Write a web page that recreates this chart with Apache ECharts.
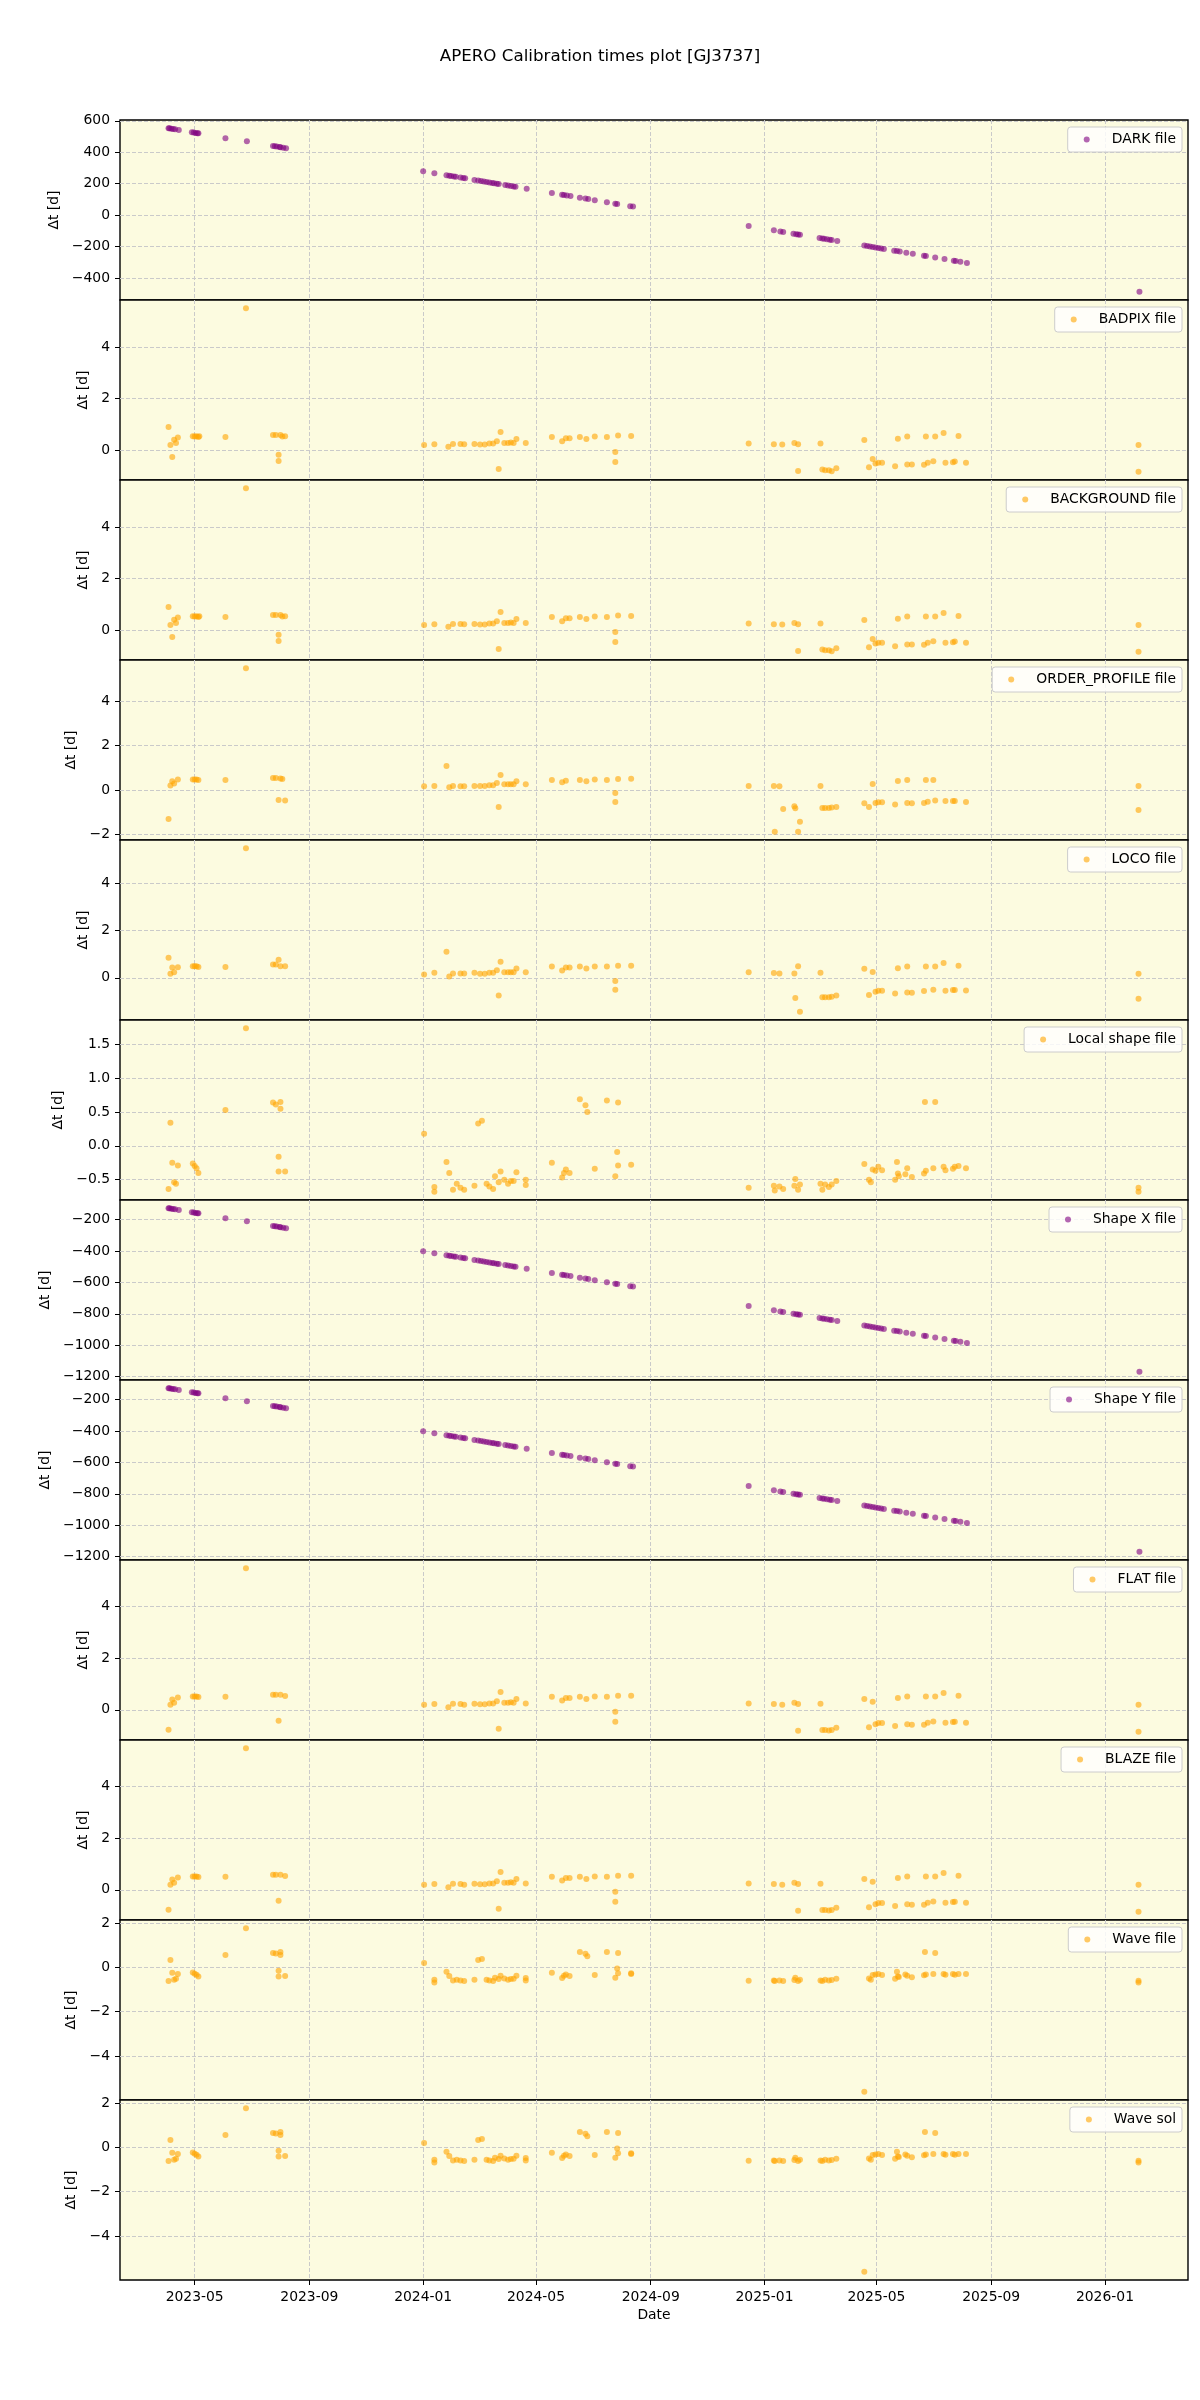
<!DOCTYPE html>
<html>
<head>
<meta charset="utf-8">
<script src="https://cdn.jsdelivr.net/npm/echarts@6/dist/echarts.min.js"></script>
<style>
  html, body { margin: 0; padding: 0; background: #fff; }
  #chart { width: 1200px; height: 2400px; }
</style>
</head>
<body>
<div id="chart"></div>
<script>
// x tick labels (first of month)
const monthTicks = ['2023-05', '2023-09', '2024-01', '2024-05', '2024-09', '2025-01', '2025-05', '2025-09', '2026-01'];

// dates shared by DARK / Shape X / Shape Y
const calibDates = [
  '2023-04-03', '2023-04-04', '2023-04-06', '2023-04-08', '2023-04-10', '2023-04-14',
  '2023-04-28', '2023-04-30', '2023-05-02', '2023-05-04', '2023-05-05',
  '2023-06-03', '2023-06-26',
  '2023-07-24', '2023-07-26', '2023-07-28', '2023-07-31', '2023-08-01', '2023-08-04', '2023-08-07',
  '2024-01-01', '2024-01-13', '2024-01-26', '2024-01-29', '2024-01-31', '2024-02-03', '2024-02-05', '2024-02-10', '2024-02-13', '2024-02-15',
  '2024-02-25', '2024-02-29', '2024-03-03', '2024-03-06', '2024-03-09', '2024-03-12', '2024-03-15', '2024-03-17', '2024-03-20', '2024-03-22',
  '2024-03-29', '2024-04-01', '2024-04-04', '2024-04-07', '2024-04-09', '2024-04-21', '2024-05-18', '2024-05-29', '2024-05-31', '2024-06-03',
  '2024-06-07', '2024-06-17', '2024-06-23', '2024-06-26', '2024-07-03', '2024-07-16', '2024-07-25', '2024-07-27', '2024-08-10', '2024-08-13',
  '2024-12-15', '2025-01-11', '2025-01-18', '2025-01-21', '2025-02-01', '2025-02-04', '2025-02-06', '2025-02-08', '2025-03-01', '2025-03-04',
  '2025-03-06', '2025-03-09', '2025-03-12', '2025-03-14', '2025-03-20', '2025-04-18', '2025-04-21', '2025-04-24', '2025-04-27', '2025-04-30',
  '2025-05-03', '2025-05-06', '2025-05-09', '2025-05-20', '2025-05-23', '2025-05-26', '2025-06-02', '2025-06-09', '2025-06-21', '2025-06-23',
  '2025-07-03', '2025-07-13', '2025-07-23', '2025-07-25', '2025-07-30', '2025-08-06',
  '2026-02-07'
];

const darkVals = [
  553, 552, 550, 548, 546, 542, 527, 525, 523, 521, 520, 489, 470, 440, 438, 436, 433, 432, 429, 426,
  279, 267, 254, 251, 249, 246, 244, 239, 236, 234, 224, 220, 217, 214, 211, 208, 205, 203, 200, 198,
  191, 188, 185, 182, 180, 168, 141, 130, 128, 125, 121, 111, 105, 102, 95, 82, 73, 71, 57, 54,
  -70, -97, -104, -107, -118, -121, -123, -125, -146, -149, -151, -154, -157, -159, -165, -194, -197, -200, -203, -206,
  -209, -212, -215, -226, -229, -232, -239, -246, -258, -260, -270, -280, -290, -292, -297, -304,
  -488
];

const shapeXVals = [
  -128, -129, -131, -133, -135, -139, -154, -156, -158, -160, -161, -192, -211, -241, -243, -245, -248, -249, -252, -255,
  -402, -414, -427, -430, -432, -435, -437, -442, -445, -447, -457, -461, -464, -467, -470, -473, -476, -478, -481, -483,
  -490, -493, -496, -499, -501, -513, -540, -551, -553, -556, -560, -570, -576, -579, -586, -599, -608, -610, -624, -627,
  -751, -778, -785, -788, -799, -802, -804, -806, -827, -830, -832, -835, -838, -840, -846, -875, -878, -881, -884, -887,
  -890, -893, -896, -907, -910, -913, -920, -927, -939, -941, -951, -961, -971, -973, -978, -985,
  -1169
];

const shapeYVals = [
  -128, -129, -131, -133, -135, -139, -154, -156, -158, -160, -161, -192, -211, -241, -243, -245, -248, -249, -252, -255,
  -402, -414, -427, -430, -432, -435, -437, -442, -445, -447, -457, -461, -464, -467, -470, -473, -476, -478, -481, -483,
  -490, -493, -496, -499, -501, -513, -540, -551, -553, -556, -560, -570, -576, -579, -586, -599, -608, -610, -624, -627,
  -751, -778, -785, -788, -799, -802, -804, -806, -827, -830, -832, -835, -838, -840, -846, -875, -878, -881, -884, -887,
  -890, -893, -896, -907, -910, -913, -920, -927, -939, -941, -951, -961, -971, -973, -978, -985,
  -1169
];

const badpixPts = [
  ['2023-04-03', 0.89], ['2023-04-05', 0.19], ['2023-04-07', -0.27], ['2023-04-09', 0.40], ['2023-04-11', 0.27], ['2023-04-13', 0.48],
  ['2023-04-29', 0.53], ['2023-05-01', 0.52], ['2023-05-03', 0.53], ['2023-05-05', 0.50], ['2023-05-06', 0.53], ['2023-06-03', 0.50],
  ['2023-06-25', 5.51], ['2023-07-24', 0.58], ['2023-07-27', 0.58], ['2023-07-30', -0.19], ['2023-07-30', -0.43], ['2023-08-01', 0.58],
  ['2023-08-03', 0.52], ['2023-08-06', 0.53],
  ['2024-01-02', 0.19], ['2024-01-13', 0.22], ['2024-01-28', 0.12], ['2024-02-02', 0.23], ['2024-02-10', 0.23], ['2024-02-14', 0.22],
  ['2024-02-25', 0.23], ['2024-03-02', 0.21], ['2024-03-07', 0.21], ['2024-03-12', 0.25], ['2024-03-16', 0.25], ['2024-03-20', 0.34],
  ['2024-03-22', -0.74], ['2024-03-24', 0.70], ['2024-03-28', 0.27], ['2024-04-01', 0.27], ['2024-04-04', 0.29], ['2024-04-07', 0.27],
  ['2024-04-10', 0.43], ['2024-04-20', 0.27], ['2024-05-18', 0.50], ['2024-05-29', 0.34], ['2024-06-02', 0.45], ['2024-06-06', 0.45],
  ['2024-06-17', 0.50], ['2024-06-24', 0.43], ['2024-07-03', 0.52], ['2024-07-16', 0.50], ['2024-07-25', -0.08], ['2024-07-25', -0.47],
  ['2024-07-28', 0.56], ['2024-08-11', 0.54],
  ['2024-12-15', 0.25], ['2025-01-11', 0.22], ['2025-01-20', 0.21], ['2025-02-02', 0.27], ['2025-02-06', 0.22], ['2025-02-06', -0.82],
  ['2025-03-02', 0.25], ['2025-03-04', -0.76], ['2025-03-07', -0.79], ['2025-03-11', -0.79], ['2025-03-14', -0.83], ['2025-03-19', -0.71],
  ['2025-04-18', 0.39], ['2025-04-23', -0.67], ['2025-04-27', -0.35], ['2025-04-30', -0.53], ['2025-05-03', -0.50], ['2025-05-07', -0.50],
  ['2025-05-21', -0.63], ['2025-05-24', 0.44], ['2025-06-03', 0.52], ['2025-06-03', -0.57], ['2025-06-08', -0.57], ['2025-06-21', -0.58],
  ['2025-06-23', 0.52], ['2025-06-25', -0.50], ['2025-07-01', -0.44], ['2025-07-03', 0.52], ['2025-07-12', 0.66], ['2025-07-14', -0.50],
  ['2025-07-22', -0.48], ['2025-07-24', -0.45], ['2025-07-28', 0.54], ['2025-08-05', -0.50],
  ['2026-02-06', 0.19], ['2026-02-06', -0.85]
];

const backgroundPts = [
  ['2023-04-03', 0.89], ['2023-04-05', 0.19], ['2023-04-07', -0.27], ['2023-04-09', 0.40], ['2023-04-11', 0.27], ['2023-04-13', 0.48],
  ['2023-04-29', 0.53], ['2023-05-01', 0.52], ['2023-05-03', 0.53], ['2023-05-05', 0.50], ['2023-05-06', 0.53], ['2023-06-03', 0.50],
  ['2023-06-25', 5.51], ['2023-07-24', 0.58], ['2023-07-27', 0.58], ['2023-07-30', -0.19], ['2023-07-30', -0.43], ['2023-08-01', 0.58],
  ['2023-08-03', 0.52], ['2023-08-06', 0.53],
  ['2024-01-02', 0.19], ['2024-01-13', 0.22], ['2024-01-28', 0.12], ['2024-02-02', 0.23], ['2024-02-10', 0.23], ['2024-02-14', 0.22],
  ['2024-02-25', 0.23], ['2024-03-02', 0.21], ['2024-03-07', 0.21], ['2024-03-12', 0.25], ['2024-03-16', 0.25], ['2024-03-20', 0.34],
  ['2024-03-22', -0.74], ['2024-03-24', 0.70], ['2024-03-28', 0.27], ['2024-04-01', 0.27], ['2024-04-04', 0.29], ['2024-04-07', 0.27],
  ['2024-04-10', 0.43], ['2024-04-20', 0.27], ['2024-05-18', 0.50], ['2024-05-29', 0.34], ['2024-06-02', 0.45], ['2024-06-06', 0.45],
  ['2024-06-17', 0.50], ['2024-06-24', 0.43], ['2024-07-03', 0.52], ['2024-07-16', 0.50], ['2024-07-25', -0.08], ['2024-07-25', -0.47],
  ['2024-07-28', 0.56], ['2024-08-11', 0.54],
  ['2024-12-15', 0.25], ['2025-01-11', 0.22], ['2025-01-20', 0.21], ['2025-02-02', 0.27], ['2025-02-06', 0.22], ['2025-02-06', -0.82],
  ['2025-03-02', 0.25], ['2025-03-04', -0.76], ['2025-03-07', -0.79], ['2025-03-11', -0.79], ['2025-03-14', -0.83], ['2025-03-19', -0.71],
  ['2025-04-18', 0.39], ['2025-04-23', -0.67], ['2025-04-27', -0.35], ['2025-04-30', -0.53], ['2025-05-03', -0.50], ['2025-05-07', -0.50],
  ['2025-05-21', -0.63], ['2025-05-24', 0.44], ['2025-06-03', 0.52], ['2025-06-03', -0.57], ['2025-06-08', -0.57], ['2025-06-21', -0.58],
  ['2025-06-23', 0.52], ['2025-06-25', -0.50], ['2025-07-01', -0.44], ['2025-07-03', 0.52], ['2025-07-12', 0.66], ['2025-07-14', -0.50],
  ['2025-07-22', -0.48], ['2025-07-24', -0.45], ['2025-07-28', 0.54], ['2025-08-05', -0.50],
  ['2026-02-06', 0.19], ['2026-02-06', -0.85]
];

const orderProfilePts = [
  ['2023-04-03', -1.31], ['2023-04-05', 0.20], ['2023-04-07', 0.39], ['2023-04-09', 0.29], ['2023-04-13', 0.47], ['2023-04-29', 0.47],
  ['2023-05-01', 0.47], ['2023-05-03', 0.47], ['2023-05-05', 0.45], ['2023-06-03', 0.45], ['2023-06-25', 5.50], ['2023-07-24', 0.54],
  ['2023-07-27', 0.54], ['2023-07-30', -0.45], ['2023-08-01', 0.52], ['2023-08-03', 0.50], ['2023-08-06', -0.48],
  ['2024-01-02', 0.17], ['2024-01-13', 0.18], ['2024-01-26', 1.08], ['2024-01-29', 0.12], ['2024-02-02', 0.18], ['2024-02-10', 0.17],
  ['2024-02-14', 0.17], ['2024-02-25', 0.18], ['2024-03-02', 0.18], ['2024-03-07', 0.18], ['2024-03-12', 0.21], ['2024-03-16', 0.21],
  ['2024-03-20', 0.32], ['2024-03-22', -0.77], ['2024-03-24', 0.68], ['2024-03-28', 0.26], ['2024-04-01', 0.26], ['2024-04-04', 0.26],
  ['2024-04-07', 0.26], ['2024-04-10', 0.39], ['2024-04-20', 0.26], ['2024-05-18', 0.45], ['2024-05-29', 0.35], ['2024-06-02', 0.42],
  ['2024-06-17', 0.45], ['2024-06-24', 0.39], ['2024-07-03', 0.47], ['2024-07-16', 0.45], ['2024-07-25', -0.14], ['2024-07-25', -0.54],
  ['2024-07-28', 0.50], ['2024-08-11', 0.51],
  ['2024-12-15', 0.18], ['2025-01-11', 0.18], ['2025-01-12', -1.89], ['2025-01-17', 0.17], ['2025-01-21', -0.86], ['2025-02-02', -0.74],
  ['2025-02-03', -0.83], ['2025-02-06', -1.89], ['2025-02-08', -1.44], ['2025-03-02', 0.18], ['2025-03-04', -0.81], ['2025-03-07', -0.81],
  ['2025-03-11', -0.81], ['2025-03-14', -0.79], ['2025-03-19', -0.77], ['2025-04-18', -0.60], ['2025-04-23', -0.77], ['2025-04-27', 0.27],
  ['2025-04-30', -0.59], ['2025-05-03', -0.56], ['2025-05-07', -0.56], ['2025-05-21', -0.66], ['2025-05-24', 0.41], ['2025-06-03', 0.45],
  ['2025-06-03', -0.59], ['2025-06-08', -0.60], ['2025-06-21', -0.59], ['2025-06-23', 0.45], ['2025-06-25', -0.53], ['2025-07-01', 0.45],
  ['2025-07-03', -0.48], ['2025-07-14', -0.50], ['2025-07-22', -0.50], ['2025-07-24', -0.50], ['2025-08-05', -0.54],
  ['2026-02-06', 0.18], ['2026-02-06', -0.90]
];

const locoPts = [
  ['2023-04-03', 0.85], ['2023-04-05', 0.17], ['2023-04-07', 0.44], ['2023-04-09', 0.24], ['2023-04-13', 0.45], ['2023-04-29', 0.49],
  ['2023-05-01', 0.49], ['2023-05-03', 0.49], ['2023-05-05', 0.46], ['2023-06-03', 0.46], ['2023-06-25', 5.49], ['2023-07-24', 0.56],
  ['2023-07-27', 0.56], ['2023-07-30', 0.77], ['2023-08-01', 0.49], ['2023-08-06', 0.49],
  ['2024-01-02', 0.14], ['2024-01-13', 0.21], ['2024-01-26', 1.10], ['2024-01-29', 0.06], ['2024-02-02', 0.18], ['2024-02-10', 0.18],
  ['2024-02-14', 0.18], ['2024-02-25', 0.21], ['2024-03-02', 0.17], ['2024-03-07', 0.17], ['2024-03-12', 0.21], ['2024-03-16', 0.21],
  ['2024-03-20', 0.32], ['2024-03-22', -0.75], ['2024-03-24', 0.68], ['2024-03-28', 0.24], ['2024-04-01', 0.24], ['2024-04-04', 0.24],
  ['2024-04-07', 0.24], ['2024-04-10', 0.39], ['2024-04-20', 0.24], ['2024-05-18', 0.48], ['2024-05-29', 0.31], ['2024-06-02', 0.44],
  ['2024-06-06', 0.44], ['2024-06-17', 0.48], ['2024-06-24', 0.39], ['2024-07-03', 0.48], ['2024-07-16', 0.48], ['2024-07-25', -0.13],
  ['2024-07-25', -0.51], ['2024-07-28', 0.51], ['2024-08-11', 0.51],
  ['2024-12-15', 0.24], ['2025-01-11', 0.20], ['2025-01-17', 0.18], ['2025-02-02', 0.18], ['2025-02-03', -0.86], ['2025-02-06', 0.49],
  ['2025-02-08', -1.44], ['2025-03-02', 0.21], ['2025-03-04', -0.82], ['2025-03-07', -0.82], ['2025-03-11', -0.82], ['2025-03-14', -0.80],
  ['2025-03-19', -0.75], ['2025-04-18', 0.38], ['2025-04-23', -0.73], ['2025-04-27', 0.25], ['2025-04-30', -0.59], ['2025-05-03', -0.55],
  ['2025-05-07', -0.55], ['2025-05-21', -0.66], ['2025-05-24', 0.41], ['2025-06-03', 0.48], ['2025-06-03', -0.62], ['2025-06-08', -0.63],
  ['2025-06-21', -0.56], ['2025-06-23', 0.48], ['2025-07-01', -0.51], ['2025-07-03', 0.48], ['2025-07-12', 0.63], ['2025-07-14', -0.55],
  ['2025-07-22', -0.52], ['2025-07-24', -0.52], ['2025-07-28', 0.51], ['2025-08-05', -0.54],
  ['2026-02-06', 0.17], ['2026-02-06', -0.89]
];

const localShapePts = [
  ['2023-04-03', -0.64], ['2023-04-05', 0.34], ['2023-04-07', -0.25], ['2023-04-09', -0.54], ['2023-04-11', -0.56], ['2023-04-13', -0.29],
  ['2023-04-29', -0.26], ['2023-05-01', -0.30], ['2023-05-03', -0.33], ['2023-05-05', -0.40], ['2023-06-03', 0.53], ['2023-06-25', 1.74],
  ['2023-07-24', 0.64], ['2023-07-27', 0.61], ['2023-08-01', 0.65], ['2023-08-01', 0.55], ['2023-07-30', -0.16], ['2023-07-30', -0.38],
  ['2023-08-06', -0.38],
  ['2024-01-02', 0.18], ['2024-01-13', -0.61], ['2024-01-13', -0.68], ['2024-01-26', -0.24], ['2024-01-29', -0.40], ['2024-02-02', -0.65],
  ['2024-02-06', -0.56], ['2024-02-10', -0.62], ['2024-02-14', -0.65], ['2024-02-25', -0.59], ['2024-02-29', 0.33], ['2024-03-04', 0.37],
  ['2024-03-09', -0.56], ['2024-03-12', -0.60], ['2024-03-16', -0.64], ['2024-03-18', -0.45], ['2024-03-22', -0.54], ['2024-03-24', -0.38],
  ['2024-03-28', -0.50], ['2024-04-01', -0.56], ['2024-04-04', -0.52], ['2024-04-07', -0.52], ['2024-04-10', -0.39], ['2024-04-20', -0.50],
  ['2024-04-20', -0.58], ['2024-05-18', -0.25], ['2024-05-29', -0.47], ['2024-05-31', -0.40], ['2024-06-02', -0.35], ['2024-06-06', -0.40],
  ['2024-06-17', 0.69], ['2024-06-23', 0.60], ['2024-06-25', 0.50], ['2024-07-03', -0.34], ['2024-07-16', 0.67], ['2024-07-25', -0.45],
  ['2024-07-27', -0.09], ['2024-07-28', 0.64], ['2024-07-28', -0.29], ['2024-08-11', -0.28],
  ['2024-12-15', -0.62], ['2025-01-11', -0.59], ['2025-01-12', -0.66], ['2025-01-17', -0.60], ['2025-01-21', -0.64], ['2025-02-02', -0.59],
  ['2025-02-03', -0.49], ['2025-02-06', -0.65], ['2025-02-08', -0.57], ['2025-03-02', -0.56], ['2025-03-04', -0.65], ['2025-03-07', -0.57],
  ['2025-03-11', -0.61], ['2025-03-14', -0.57], ['2025-03-19', -0.52], ['2025-04-18', -0.27], ['2025-04-23', -0.50], ['2025-04-25', -0.54],
  ['2025-04-27', -0.35], ['2025-04-30', -0.37], ['2025-05-03', -0.31], ['2025-05-07', -0.36], ['2025-05-21', -0.50], ['2025-05-23', -0.24],
  ['2025-05-24', -0.41], ['2025-05-25', -0.45], ['2025-06-01', -0.42], ['2025-06-03', -0.33], ['2025-06-08', -0.46], ['2025-06-21', -0.41],
  ['2025-06-22', 0.65], ['2025-06-23', -0.37], ['2025-07-01', -0.33], ['2025-07-03', 0.65], ['2025-07-12', -0.31], ['2025-07-14', -0.36],
  ['2025-07-22', -0.34], ['2025-07-24', -0.31], ['2025-07-28', -0.30], ['2025-08-05', -0.33],
  ['2026-02-06', -0.62], ['2026-02-06', -0.68]
];

const flatPts = [
  ['2023-04-03', -0.77], ['2023-04-05', 0.19], ['2023-04-07', 0.40], ['2023-04-09', 0.27], ['2023-04-13', 0.47], ['2023-04-29', 0.51],
  ['2023-05-01', 0.51], ['2023-05-03', 0.51], ['2023-05-05', 0.49], ['2023-06-03', 0.50], ['2023-06-25', 5.46], ['2023-07-24', 0.58],
  ['2023-07-27', 0.58], ['2023-07-30', -0.42], ['2023-08-01', 0.58], ['2023-08-06', 0.53],
  ['2024-01-02', 0.19], ['2024-01-13', 0.22], ['2024-01-28', 0.10], ['2024-02-02', 0.23], ['2024-02-10', 0.22], ['2024-02-14', 0.19],
  ['2024-02-25', 0.23], ['2024-03-02', 0.21], ['2024-03-07', 0.21], ['2024-03-12', 0.24], ['2024-03-16', 0.24], ['2024-03-20', 0.33],
  ['2024-03-22', -0.73], ['2024-03-24', 0.69], ['2024-03-28', 0.27], ['2024-04-01', 0.27], ['2024-04-04', 0.29], ['2024-04-07', 0.27],
  ['2024-04-10', 0.42], ['2024-04-20', 0.24], ['2024-05-18', 0.50], ['2024-05-29', 0.36], ['2024-06-02', 0.45], ['2024-06-06', 0.45],
  ['2024-06-17', 0.50], ['2024-06-24', 0.42], ['2024-07-03', 0.51], ['2024-07-16', 0.50], ['2024-07-25', -0.08], ['2024-07-25', -0.46],
  ['2024-07-28', 0.54], ['2024-08-11', 0.54],
  ['2024-12-15', 0.24], ['2025-01-11', 0.22], ['2025-01-20', 0.19], ['2025-02-02', 0.27], ['2025-02-06', 0.22], ['2025-02-06', -0.81],
  ['2025-03-02', 0.23], ['2025-03-04', -0.78], ['2025-03-07', -0.78], ['2025-03-11', -0.80], ['2025-03-14', -0.78], ['2025-03-19', -0.69],
  ['2025-04-18', 0.42], ['2025-04-23', -0.67], ['2025-04-27', 0.31], ['2025-04-30', -0.56], ['2025-05-03', -0.51], ['2025-05-07', -0.51],
  ['2025-05-21', -0.63], ['2025-05-24', 0.45], ['2025-06-03', 0.51], ['2025-06-03', -0.56], ['2025-06-08', -0.58], ['2025-06-21', -0.58],
  ['2025-06-23', 0.51], ['2025-06-25', -0.50], ['2025-07-01', -0.45], ['2025-07-03', 0.51], ['2025-07-12', 0.65], ['2025-07-14', -0.50],
  ['2025-07-22', -0.47], ['2025-07-24', -0.46], ['2025-07-28', 0.54], ['2025-08-05', -0.50],
  ['2026-02-06', 0.19], ['2026-02-06', -0.85]
];

const blazePts = [
  ['2023-04-03', -0.77], ['2023-04-05', 0.19], ['2023-04-07', 0.40], ['2023-04-09', 0.27], ['2023-04-13', 0.47], ['2023-04-29', 0.51],
  ['2023-05-01', 0.51], ['2023-05-03', 0.51], ['2023-05-05', 0.49], ['2023-06-03', 0.50], ['2023-06-25', 5.46], ['2023-07-24', 0.58],
  ['2023-07-27', 0.58], ['2023-07-30', -0.42], ['2023-08-01', 0.58], ['2023-08-06', 0.53],
  ['2024-01-02', 0.19], ['2024-01-13', 0.22], ['2024-01-28', 0.10], ['2024-02-02', 0.23], ['2024-02-10', 0.22], ['2024-02-14', 0.19],
  ['2024-02-25', 0.23], ['2024-03-02', 0.21], ['2024-03-07', 0.21], ['2024-03-12', 0.24], ['2024-03-16', 0.24], ['2024-03-20', 0.33],
  ['2024-03-22', -0.73], ['2024-03-24', 0.69], ['2024-03-28', 0.27], ['2024-04-01', 0.27], ['2024-04-04', 0.29], ['2024-04-07', 0.27],
  ['2024-04-10', 0.42], ['2024-04-20', 0.24], ['2024-05-18', 0.50], ['2024-05-29', 0.36], ['2024-06-02', 0.45], ['2024-06-06', 0.45],
  ['2024-06-17', 0.50], ['2024-06-24', 0.42], ['2024-07-03', 0.51], ['2024-07-16', 0.50], ['2024-07-25', -0.08], ['2024-07-25', -0.46],
  ['2024-07-28', 0.54], ['2024-08-11', 0.54],
  ['2024-12-15', 0.24], ['2025-01-11', 0.22], ['2025-01-20', 0.19], ['2025-02-02', 0.27], ['2025-02-06', 0.22], ['2025-02-06', -0.81],
  ['2025-03-02', 0.23], ['2025-03-04', -0.78], ['2025-03-07', -0.78], ['2025-03-11', -0.80], ['2025-03-14', -0.78], ['2025-03-19', -0.69],
  ['2025-04-18', 0.42], ['2025-04-23', -0.67], ['2025-04-27', 0.31], ['2025-04-30', -0.56], ['2025-05-03', -0.51], ['2025-05-07', -0.51],
  ['2025-05-21', -0.63], ['2025-05-24', 0.45], ['2025-06-03', 0.51], ['2025-06-03', -0.56], ['2025-06-08', -0.58], ['2025-06-21', -0.58],
  ['2025-06-23', 0.51], ['2025-06-25', -0.50], ['2025-07-01', -0.45], ['2025-07-03', 0.51], ['2025-07-12', 0.65], ['2025-07-14', -0.50],
  ['2025-07-22', -0.47], ['2025-07-24', -0.46], ['2025-07-28', 0.54], ['2025-08-05', -0.50],
  ['2026-02-06', 0.19], ['2026-02-06', -0.85]
];

const wavePts = [
  ['2023-04-03', -0.62], ['2023-04-05', 0.33], ['2023-04-07', -0.24], ['2023-04-09', -0.56], ['2023-04-11', -0.51], ['2023-04-13', -0.30],
  ['2023-04-29', -0.23], ['2023-05-01', -0.29], ['2023-05-03', -0.33], ['2023-05-05', -0.41], ['2023-06-03', 0.56], ['2023-06-25', 1.77],
  ['2023-07-24', 0.65], ['2023-07-27', 0.63], ['2023-08-01', 0.69], ['2023-08-01', 0.56], ['2023-07-30', -0.15], ['2023-07-30', -0.41],
  ['2023-08-06', -0.39],
  ['2024-01-02', 0.20], ['2024-01-13', -0.56], ['2024-01-13', -0.68], ['2024-01-26', -0.20], ['2024-01-29', -0.39], ['2024-02-02', -0.59],
  ['2024-02-06', -0.56], ['2024-02-10', -0.59], ['2024-02-14', -0.62], ['2024-02-25', -0.56], ['2024-02-29', 0.33], ['2024-03-04', 0.38],
  ['2024-03-09', -0.56], ['2024-03-12', -0.59], ['2024-03-16', -0.62], ['2024-03-18', -0.47], ['2024-03-22', -0.53], ['2024-03-24', -0.38],
  ['2024-03-28', -0.50], ['2024-04-01', -0.56], ['2024-04-04', -0.53], ['2024-04-07', -0.51], ['2024-04-10', -0.38], ['2024-04-20', -0.48],
  ['2024-04-20', -0.59], ['2024-05-18', -0.24], ['2024-05-29', -0.48], ['2024-05-31', -0.38], ['2024-06-02', -0.32], ['2024-06-06', -0.39],
  ['2024-06-17', 0.69], ['2024-06-23', 0.62], ['2024-06-25', 0.50], ['2024-07-03', -0.35], ['2024-07-16', 0.69], ['2024-07-25', -0.47],
  ['2024-07-27', -0.05], ['2024-07-28', 0.65], ['2024-07-28', -0.27], ['2024-08-11', -0.27], ['2024-08-11', -0.30],
  ['2024-12-15', -0.60], ['2025-01-11', -0.59], ['2025-01-12', -0.62], ['2025-01-17', -0.59], ['2025-01-21', -0.62], ['2025-02-02', -0.57],
  ['2025-02-03', -0.47], ['2025-02-06', -0.62], ['2025-02-08', -0.56], ['2025-03-02', -0.59], ['2025-03-04', -0.62], ['2025-03-07', -0.56],
  ['2025-03-11', -0.59], ['2025-03-14', -0.57], ['2025-03-19', -0.51], ['2025-04-18', -5.62], ['2025-04-23', -0.50], ['2025-04-25', -0.56],
  ['2025-04-27', -0.35], ['2025-04-30', -0.32], ['2025-05-03', -0.30], ['2025-05-07', -0.35], ['2025-05-21', -0.51], ['2025-05-23', -0.20],
  ['2025-05-24', -0.41], ['2025-05-25', -0.44], ['2025-06-01', -0.32], ['2025-06-03', -0.38], ['2025-06-08', -0.45], ['2025-06-21', -0.36],
  ['2025-06-22', 0.69], ['2025-06-23', -0.32], ['2025-07-01', -0.30], ['2025-07-03', 0.65], ['2025-07-12', -0.30], ['2025-07-14', -0.33],
  ['2025-07-22', -0.30], ['2025-07-24', -0.33], ['2025-07-28', -0.30], ['2025-08-05', -0.30],
  ['2026-02-06', -0.60], ['2026-02-06', -0.68]
];

const waveSolPts = [
  ['2023-04-03', -0.62], ['2023-04-05', 0.33], ['2023-04-07', -0.24], ['2023-04-09', -0.56], ['2023-04-11', -0.51], ['2023-04-13', -0.30],
  ['2023-04-29', -0.23], ['2023-05-01', -0.29], ['2023-05-03', -0.33], ['2023-05-05', -0.41], ['2023-06-03', 0.56], ['2023-06-25', 1.77],
  ['2023-07-24', 0.65], ['2023-07-27', 0.63], ['2023-08-01', 0.69], ['2023-08-01', 0.56], ['2023-07-30', -0.15], ['2023-07-30', -0.41],
  ['2023-08-06', -0.39],
  ['2024-01-02', 0.20], ['2024-01-13', -0.56], ['2024-01-13', -0.68], ['2024-01-26', -0.20], ['2024-01-29', -0.39], ['2024-02-02', -0.59],
  ['2024-02-06', -0.56], ['2024-02-10', -0.59], ['2024-02-14', -0.62], ['2024-02-25', -0.56], ['2024-02-29', 0.33], ['2024-03-04', 0.38],
  ['2024-03-09', -0.56], ['2024-03-12', -0.59], ['2024-03-16', -0.62], ['2024-03-18', -0.47], ['2024-03-22', -0.53], ['2024-03-24', -0.38],
  ['2024-03-28', -0.50], ['2024-04-01', -0.56], ['2024-04-04', -0.53], ['2024-04-07', -0.51], ['2024-04-10', -0.38], ['2024-04-20', -0.48],
  ['2024-04-20', -0.59], ['2024-05-18', -0.24], ['2024-05-29', -0.48], ['2024-05-31', -0.38], ['2024-06-02', -0.32], ['2024-06-06', -0.39],
  ['2024-06-17', 0.69], ['2024-06-23', 0.62], ['2024-06-25', 0.50], ['2024-07-03', -0.35], ['2024-07-16', 0.69], ['2024-07-25', -0.47],
  ['2024-07-27', -0.05], ['2024-07-28', 0.65], ['2024-07-28', -0.27], ['2024-08-11', -0.27], ['2024-08-11', -0.30],
  ['2024-12-15', -0.60], ['2025-01-11', -0.59], ['2025-01-12', -0.62], ['2025-01-17', -0.59], ['2025-01-21', -0.62], ['2025-02-02', -0.57],
  ['2025-02-03', -0.47], ['2025-02-06', -0.62], ['2025-02-08', -0.56], ['2025-03-02', -0.59], ['2025-03-04', -0.62], ['2025-03-07', -0.56],
  ['2025-03-11', -0.59], ['2025-03-14', -0.57], ['2025-03-19', -0.51], ['2025-04-18', -5.62], ['2025-04-23', -0.50], ['2025-04-25', -0.56],
  ['2025-04-27', -0.35], ['2025-04-30', -0.32], ['2025-05-03', -0.30], ['2025-05-07', -0.35], ['2025-05-21', -0.51], ['2025-05-23', -0.20],
  ['2025-05-24', -0.41], ['2025-05-25', -0.44], ['2025-06-01', -0.32], ['2025-06-03', -0.38], ['2025-06-08', -0.45], ['2025-06-21', -0.36],
  ['2025-06-22', 0.69], ['2025-06-23', -0.32], ['2025-07-01', -0.30], ['2025-07-03', 0.65], ['2025-07-12', -0.30], ['2025-07-14', -0.33],
  ['2025-07-22', -0.30], ['2025-07-24', -0.33], ['2025-07-28', -0.30], ['2025-08-05', -0.30],
  ['2026-02-06', -0.60], ['2026-02-06', -0.68]
];

// y tick values per panel
const darkTicks = [-400, -200, 0, 200, 400, 600];
const smallTicks = [0, 2, 4];
const orderTicks = [-2, 0, 2, 4];
const localTicks = [-0.5, 0, 0.5, 1, 1.5];
const shapeTicks = [-1200, -1000, -800, -600, -400, -200];
const waveTicks = [-4, -2, 0, 2];

const PURPLE = '#800080';
const ORANGE = '#ffa500';
const FONT = 'DejaVu Sans';
const FS = 13.9;

const zip = (dates, vals) => dates.map((d, i) => [d, vals[i]]);

const panels = [
  { name: 'DARK file', color: PURPLE, pts: zip(calibDates, darkVals), ticks: darkTicks },
  { name: 'BADPIX file', color: ORANGE, pts: badpixPts, ticks: smallTicks },
  { name: 'BACKGROUND file', color: ORANGE, pts: backgroundPts, ticks: smallTicks },
  { name: 'ORDER_PROFILE file', color: ORANGE, pts: orderProfilePts, ticks: orderTicks },
  { name: 'LOCO file', color: ORANGE, pts: locoPts, ticks: smallTicks },
  { name: 'Local shape file', color: ORANGE, pts: localShapePts, ticks: localTicks, dec: 1 },
  { name: 'Shape X file', color: PURPLE, pts: zip(calibDates, shapeXVals), ticks: shapeTicks },
  { name: 'Shape Y file', color: PURPLE, pts: zip(calibDates, shapeYVals), ticks: shapeTicks },
  { name: 'FLAT file', color: ORANGE, pts: flatPts, ticks: smallTicks },
  { name: 'BLAZE file', color: ORANGE, pts: blazePts, ticks: smallTicks },
  { name: 'Wave file', color: ORANGE, pts: wavePts, ticks: waveTicks },
  { name: 'Wave sol', color: ORANGE, pts: waveSolPts, ticks: waveTicks }
];

panels.forEach(p => { p.data = p.pts.map(([d, v]) => [Date.parse(d), v]); });

// matplotlib style 5% margins
function padded(vals) {
  const lo = Math.min(...vals), hi = Math.max(...vals);
  const m = (hi - lo) * 0.05;
  return [lo - m, hi + m];
}
const [xMin, xMax] = padded(panels.flatMap(p => p.data.map(d => d[0])));
const monthStamps = monthTicks.map(m => Date.parse(m + '-01'));

function fmtY(v, dec) {
  const s = dec ? v.toFixed(dec) : String(v);
  return s.replace('-', '\u2212');
}
// rough DejaVu Sans text width for tick labels
function labelWidth(s) {
  let w = 0;
  for (const c of s) w += c === '\u2212' ? 0.838 : c === '.' ? 0.318 : 0.636;
  return w * FS;
}
function fmtMonth(v) {
  const d = new Date(v);
  return d.getUTCFullYear() + '-' + String(d.getUTCMonth() + 1).padStart(2, '0');
}

const TOP = 120, H = 180, LEFT = 120, RIGHT = 12;
const gridLine = { show: true, lineStyle: { type: [4, 2], color: '#cacaca', width: 1 } };
const tickStyle = { color: '#000', fontFamily: FONT, fontSize: FS };
const last = panels.length - 1;

const option = {
  animation: false,
  backgroundColor: '#fff',
  textStyle: { fontFamily: FONT },
  title: {
    text: 'APERO Calibration times plot [GJ3737]',
    left: 'center', top: 43,
    textStyle: { fontFamily: FONT, fontSize: 16.7, fontWeight: 'normal', color: '#000' }
  },
  grid: panels.map((p, i) => ({
    left: LEFT, right: RIGHT, top: TOP + H * i, height: H,
    show: true, backgroundColor: '#fcfbe0', borderColor: '#000', borderWidth: 1.4
  })),
  xAxis: panels.map((p, i) => ({
    type: 'value', gridIndex: i, min: xMin, max: xMax,
    axisLine: { show: false, onZero: false },
    axisTick: { show: i === last, customValues: monthStamps, length: 5, lineStyle: { color: '#000' } },
    axisLabel: Object.assign({ show: i === last, customValues: monthStamps, formatter: fmtMonth, margin: 10 }, tickStyle),
    splitLine: gridLine,
    name: i === last ? 'Date' : '',
    nameLocation: 'middle', nameGap: 28,
    nameTextStyle: tickStyle
  })),
  yAxis: panels.map((p, i) => {
    const [lo, hi] = padded(p.data.map(d => d[1]));
    const maxW = Math.max(...p.ticks.map(t => labelWidth(fmtY(t, p.dec))));
    return {
      type: 'value', gridIndex: i, min: lo, max: hi,
      axisLine: { show: false, onZero: false },
      axisTick: { show: true, customValues: p.ticks, length: 5, lineStyle: { color: '#000' } },
      axisLabel: Object.assign({ customValues: p.ticks, formatter: v => fmtY(v, p.dec), margin: 10 }, tickStyle),
      splitLine: gridLine,
      name: '\u0394t [d]', nameLocation: 'middle', nameRotate: 90, nameGap: maxW + 17,
      nameTextStyle: tickStyle
    };
  }),
  legend: panels.map((p, i) => ({
    data: [p.name], selectedMode: false,
    right: 18, top: TOP + H * i + 7,
    icon: 'circle', itemWidth: 6, itemHeight: 6,
    padding: [5, 6, 5, 16],
    backgroundColor: 'rgba(255,255,255,0.8)', borderColor: '#cccccc', borderWidth: 1, borderRadius: 3,
    textStyle: { fontFamily: FONT, fontSize: FS, color: '#000', lineHeight: 15, padding: [0, 0, 0, 17] }
  })),
  series: panels.map((p, i) => ({
    name: p.name, type: 'scatter', xAxisIndex: i, yAxisIndex: i,
    symbolSize: 6, silent: true,
    itemStyle: { color: p.color, opacity: 0.6 },
    data: p.data
  }))
};

const chart = echarts.init(document.getElementById('chart'), null, { renderer: 'canvas' });
chart.setOption(option);
</script>
</body>
</html>
